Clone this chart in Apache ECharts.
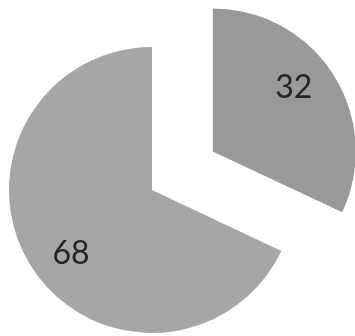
<!DOCTYPE html>
<html>
<head>
<meta charset="utf-8">
<script src="https://cdn.jsdelivr.net/npm/echarts@6/dist/echarts.min.js"></script>
<style>
  html, body { margin: 0; padding: 0; background: #ffffff; }
  #chart { width: 355px; height: 336px; }
</style>
</head>
<body>
<div id="chart"></div>
<script>
// Slice names and values, in clockwise order starting at 12 o'clock
const categories = ['A', 'B'];
const values = [32, 68];
const sliceColors = ['#979a97', '#a4a7a3'];
const explodedIndex = 0;

const center = [152, 190];
const pieRadius = 143;
const offset = 72;
// labels sit a little counter-clockwise of each slice's bisector
const labelTurn = -5.7 * Math.PI / 180;

function slices(transparent) {
  return categories.map((name, i) => ({
    name: name,
    value: values[i],
    selected: i === explodedIndex,
    itemStyle: { color: transparent ? 'rgba(0,0,0,0)' : sliceColors[i] }
  }));
}

const chart = echarts.init(document.getElementById('chart'));
chart.setOption({
  animation: false,
  series: [
    {
      // the slices themselves
      type: 'pie',
      center: center,
      radius: [0, pieRadius],
      startAngle: 90,
      clockwise: true,
      selectedMode: 'single',
      selectedOffset: offset,
      silent: true,
      label: { show: false },
      labelLine: { show: false },
      emphasis: { disabled: true },
      data: slices(false)
    },
    {
      // value labels, set further out than the default mid-radius spot
      type: 'pie',
      center: center,
      radius: [0, 200],
      startAngle: 90,
      clockwise: true,
      selectedMode: 'single',
      selectedOffset: offset,
      silent: true,
      label: {
        show: true,
        position: 'inside',
        formatter: '{c}',
        color: '#242424',
        fontSize: 32,
        fontFamily: 'Lato, Open Sans, sans-serif'
      },
      // turn each label about the pie centre (the pull-out offset is added afterwards)
      labelLayout: function (params) {
        const r = params.labelRect;
        const cx = r.x + r.width / 2, cy = r.y + r.height / 2;
        const vx = cx - center[0], vy = cy - center[1];
        const c = Math.cos(labelTurn), s = Math.sin(labelTurn);
        const nx = center[0] + vx * c - vy * s;
        const ny = center[1] + vx * s + vy * c;
        return { dx: nx - cx, dy: ny - cy };
      },
      labelLine: { show: false },
      emphasis: { disabled: true },
      data: slices(true)
    }
  ]
});
</script>
</body>
</html>
